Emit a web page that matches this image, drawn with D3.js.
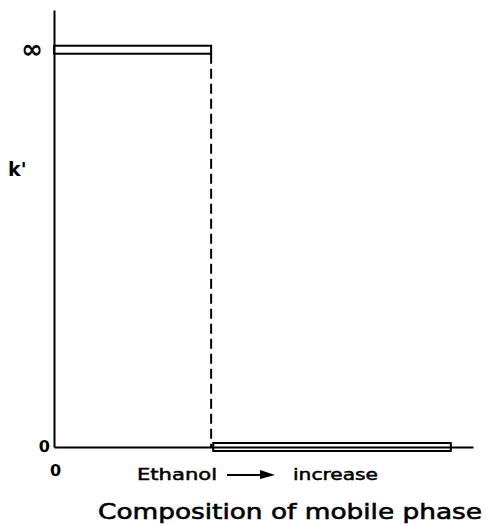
<!DOCTYPE html>
<html>
<head>
<meta charset="utf-8">
<script src="https://cdn.jsdelivr.net/npm/d3@7"></script>
<style>
  body { margin: 0; background: #fff; }
  text { font-family: "DejaVu Sans", sans-serif; fill: #000; }
</style>
</head>
<body>
<div id="chart"></div>
<script>
// composition ranges (fraction of axis) and k' value in each
const regions = ["low ethanol", "high ethanol"];
const startComp = [0, 0.38];
const endComp = [0.375, 0.947];
const kValues = [1, 0];          // 1 stands for infinity
const yTickValues = [0, 1];
const yTickLabels = ["0", "\u221e"];
const xTickValues = [0];
const xTickLabels = ["0"];

const width = 485, height = 524;
const margin = { top: 10, right: 12, bottom: 77, left: 54 };

const svg = d3.select("#chart").append("svg")
  .attr("width", width)
  .attr("height", height);

const x = d3.scaleLinear().domain([0, 1]).range([margin.left, width - margin.right]);
const y = d3.scaleLinear().domain([0, 1.1]).range([height - margin.bottom, margin.top]);

// y axis
const yAxis = svg.append("g")
  .attr("transform", `translate(${margin.left},0)`)
  .call(d3.axisLeft(y).tickValues(yTickValues).tickSize(0).tickPadding(4)
    .tickFormat((d, i) => yTickLabels[i]));
yAxis.select(".domain").attr("stroke-width", 2);
yAxis.selectAll(".tick text")
  .style("font-size", (d) => d === 1 ? "26px" : "16px")
  .style("font-weight", "bold")
  .attr("x", (d) => d === 1 ? -11 : -4)
  .attr("dy", (d) => d === 1 ? "0.3em" : "0.3em");

// x axis
const xAxis = svg.append("g")
  .attr("transform", `translate(0,${y(0)})`)
  .call(d3.axisBottom(x).tickValues(xTickValues).tickSize(0).tickPadding(18)
    .tickFormat((d, i) => xTickLabels[i]));
xAxis.select(".domain").attr("stroke-width", 2);
xAxis.selectAll(".tick text")
  .style("font-size", "16px")
  .style("font-weight", "bold")
  .attr("dx", "1px");

// bars drawn as thin open rectangles
svg.selectAll("rect.bar")
  .data(regions)
  .enter().append("rect")
  .attr("class", "bar")
  .attr("x", (d, i) => x(startComp[i]))
  .attr("width", (d, i) => x(endComp[i]) - x(startComp[i]))
  .attr("y", (d, i) => y(kValues[i]) - 4)
  .attr("height", 8)
  .attr("fill", "none")
  .attr("stroke", "#000")
  .attr("stroke-width", 2);

// dashed vertical jump
svg.append("line")
  .attr("x1", x(endComp[0])).attr("x2", x(endComp[0]))
  .attr("y1", y(kValues[0]) + 4).attr("y2", y(0))
  .attr("stroke", "#000")
  .attr("stroke-width", 2)
  .attr("stroke-dasharray", "10,5");

// axis titles
svg.append("text")
  .attr("x", 8).attr("y", 176)
  .style("font-size", "19px")
  .style("font-weight", "bold")
  .text("k'");

const sub = svg.append("g")
  .style("font-size", "16px")
  .style("stroke", "#000")
  .style("stroke-width", 0.5);
sub.append("text").attr("x", 137).attr("y", 480)
  .attr("textLength", 80).attr("lengthAdjust", "spacingAndGlyphs")
  .text("Ethanol");
sub.append("text").attr("x", 293).attr("y", 480)
  .attr("textLength", 85).attr("lengthAdjust", "spacingAndGlyphs")
  .text("increase");
// arrow
svg.append("line")
  .attr("x1", 227).attr("x2", 264).attr("y1", 475).attr("y2", 475)
  .attr("stroke", "#000").attr("stroke-width", 2);
svg.append("path")
  .attr("d", "M260,470 L275,475 L260,479 Z")
  .attr("fill", "#000");

svg.append("text")
  .attr("x", 98).attr("y", 519)
  .attr("textLength", 384).attr("lengthAdjust", "spacingAndGlyphs")
  .style("font-size", "22px")
  .style("stroke", "#000")
  .style("stroke-width", 0.6)
  .text("Composition of mobile phase");
</script>
</body>
</html>
